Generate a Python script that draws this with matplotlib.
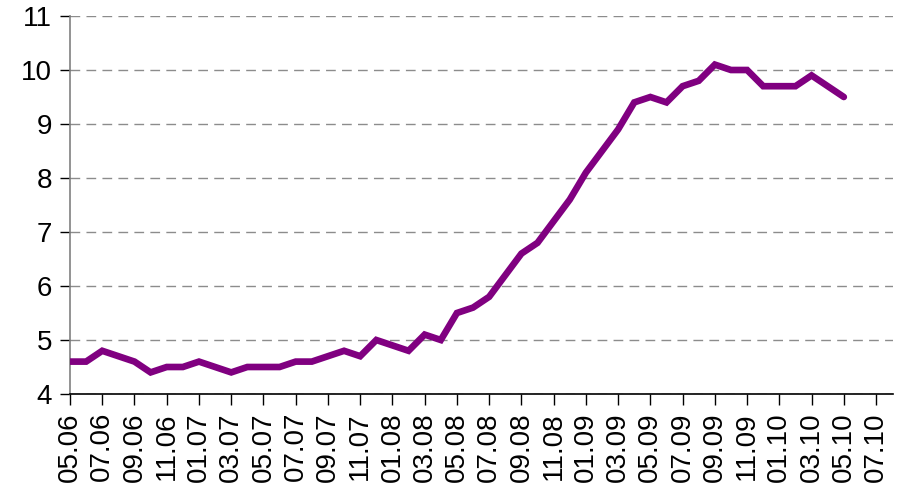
import matplotlib
matplotlib.use("Agg")
import matplotlib.pyplot as plt
import pandas as pd

# monthly values, 05.2006 .. 05.2010
values = [4.6, 4.6, 4.8, 4.7, 4.6, 4.4, 4.5, 4.5, 4.6, 4.5,
          4.4, 4.5, 4.5, 4.5, 4.6, 4.6, 4.7, 4.8, 4.7, 5.0,
          4.9, 4.8, 5.1, 5.0, 5.5, 5.6, 5.8, 6.2, 6.6, 6.8,
          7.2, 7.6, 8.1, 8.5, 8.9, 9.4, 9.5, 9.4, 9.7, 9.8,
          10.1, 10.0, 10.0, 9.7, 9.7, 9.7, 9.9, 9.7, 9.5]
all_months = pd.period_range("2006-05", "2010-07", freq="M")
tick_labels = [m.strftime("%m.%y") for m in all_months[::2]]

plt.rcParams['font.family'] = ['Liberation Sans', 'DejaVu Sans']

fig = plt.figure(figsize=(9.01, 4.91), dpi=100)
ax = fig.add_axes([70/901, 97/491, 823/901, 378/491])

x = list(range(len(values)))
ax.plot(x, values, color='#800080', lw=4.8, solid_joinstyle='miter',
        solid_capstyle='round', zorder=3)

ax.set_ylim(4, 11)
ax.set_yticks(range(4, 12))
ax.set_xlim(0, 51.05)
ax.set_xticks(range(0, len(all_months), 2))
ax.set_xticklabels(tick_labels, rotation=90)

ax.yaxis.grid(True, linestyle=(0, (7, 4.5)), color='#8c8c8c', lw=1)
ax.set_axisbelow(True)
for s in ['top', 'right']:
    ax.spines[s].set_visible(False)
ax.spines['left'].set_color('#808080')
ax.spines['left'].set_linewidth(1.2)
ax.spines['bottom'].set_color('black')
ax.spines['bottom'].set_linewidth(1.2)
ax.tick_params(axis='y', length=7, width=1, color='black', labelsize=20, pad=6)
ax.tick_params(axis='x', length=8, width=1, color='black', labelsize=20, pad=5)

fig.savefig("out.png", dpi=100)
